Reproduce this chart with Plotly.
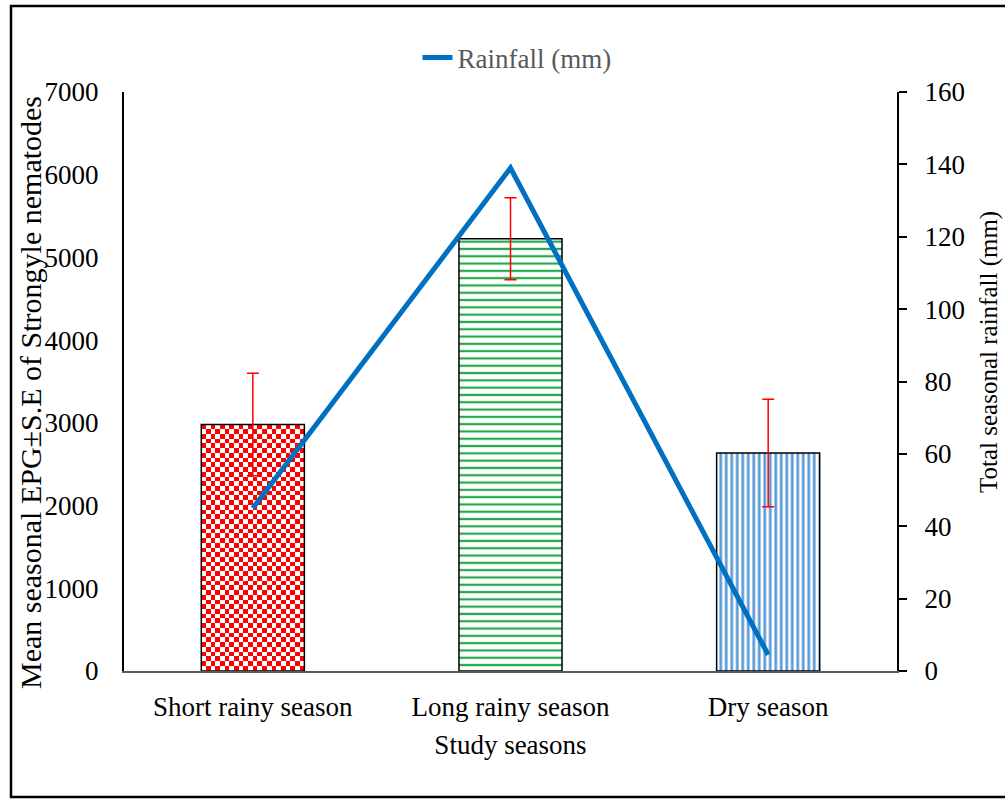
import plotly.graph_objects as go

# Seasonal data
seasons = ["Short rainy season", "Long rainy season", "Dry season"]
epg_mean = [2980, 5225, 2635]
epg_se = [620, 495, 650]
rainfall_mm = [45, 139, 4.5]

left_ticks = [0, 1000, 2000, 3000, 4000, 5000, 6000, 7000]
right_ticks = [0, 20, 40, 60, 80, 100, 120, 140, 160]

FONT = "Liberation Serif"
BAR_WIDTH = 0.4

# Margins of the plotting area (px)
L, R, T, B = 124, 108, 92, 128
W, H = 1005, 799
pw, ph = W - L - R, H - T - B


def px_to_paper_x(px):
    return (px - L) / pw


def px_to_paper_y(py):
    return (H - B - py) / ph


positions = list(range(len(seasons)))

# Fill styles: first bar gets a checkerboard, the others hatch patterns
bar_patterns = [
    None,
    dict(shape="-", fgcolor="#22a84a", bgcolor="white", size=7.3, solidity=0.3, fillmode="replace"),
    dict(shape="|", fgcolor="#5b9bd5", bgcolor="white", size=5.5, solidity=0.5, fillmode="replace"),
]

fig = go.Figure()

# Checkerboard fill for the short rainy season bar
checker_cols, checker_rows = 22, 52
cdx = BAR_WIDTH / checker_cols
cdy = epg_mean[0] / checker_rows
checker = [[(i + j) % 2 for j in range(checker_cols)] for i in range(checker_rows)]
fig.add_trace(go.Heatmap(
    z=checker,
    x0=positions[0] - BAR_WIDTH / 2 + cdx / 2, dx=cdx,
    y0=cdy / 2, dy=cdy,
    colorscale=[[0, "white"], [1, "#ff0000"]], zmin=0, zmax=1,
    showscale=False, hoverinfo="skip", zsmooth=False,
    showlegend=False,
))

for i, s in enumerate(seasons):
    if bar_patterns[i] is None:
        marker = dict(color="rgba(0,0,0,0)", line=dict(color="black", width=1.5))
    else:
        marker = dict(color="white", pattern=bar_patterns[i],
                      line=dict(color="black", width=1.5))
    fig.add_trace(go.Bar(
        x=[positions[i]], y=[epg_mean[i]],
        width=BAR_WIDTH,
        marker=marker,
        error_y=dict(type="data", array=[epg_se[i]], color="#ff0000",
                     thickness=1.5, width=6),
        showlegend=False,
        yaxis="y",
    ))

fig.add_trace(go.Scatter(
    x=positions, y=rainfall_mm, mode="lines",
    line=dict(color="#0070c0", width=5),
    name="Rainfall (mm)", yaxis="y2",
))

tickfont = dict(family=FONT, size=27, color="black")

fig.update_layout(
    width=W, height=H,
    margin=dict(l=L, r=R, t=T, b=B),
    paper_bgcolor="white", plot_bgcolor="white",
    font=dict(family=FONT, size=27, color="black"),
    showlegend=True,
    legend=dict(orientation="h", x=px_to_paper_x(517), y=px_to_paper_y(58),
                xanchor="center", yanchor="middle",
                font=dict(family=FONT, size=27, color="#595959"),
                bgcolor="rgba(0,0,0,0)"),
    xaxis=dict(
        range=[-0.5, len(seasons) - 0.5],
        tickvals=positions, ticktext=seasons,
        showline=True, linecolor="#595959", linewidth=2,
        ticks="", showgrid=False, zeroline=False, tickfont=tickfont,
        ticklabelstandoff=11,
        title=dict(text="Study seasons", font=dict(family=FONT, size=27), standoff=14),
    ),
    yaxis=dict(
        range=[0, 7000], tickvals=left_ticks,
        showline=True, linecolor="black", linewidth=2,
        ticks="", showgrid=False, zeroline=False, tickfont=tickfont,
        ticklabelstandoff=18,
    ),
    yaxis2=dict(
        range=[0, 160], tickvals=right_ticks, overlaying="y", side="right",
        showline=True, linecolor="black", linewidth=2,
        ticks="outside", ticklen=8, tickwidth=2, tickcolor="black",
        showgrid=False, zeroline=False, tickfont=tickfont,
        ticklabelstandoff=12,
    ),
    annotations=[
        dict(text="Mean seasonal EPG\u00b1S.E of Strongyle nematodes",
             xref="paper", yref="paper", x=px_to_paper_x(31), y=px_to_paper_y(393),
             xanchor="center", yanchor="middle", textangle=-90, showarrow=False,
             font=dict(family=FONT, size=30, color="black")),
        dict(text="Total seasonal rainfall (mm)",
             xref="paper", yref="paper", x=px_to_paper_x(989), y=px_to_paper_y(352),
             xanchor="center", yanchor="middle", textangle=-90, showarrow=False,
             font=dict(family=FONT, size=25, color="black")),
    ],
    shapes=[
        dict(type="rect", xref="paper", yref="paper",
             x0=px_to_paper_x(11), x1=px_to_paper_x(1012),
             y0=px_to_paper_y(797), y1=px_to_paper_y(6),
             line=dict(color="black", width=2.5), fillcolor="rgba(0,0,0,0)",
             layer="below"),
    ],
)

fig.write_html("out.html")
